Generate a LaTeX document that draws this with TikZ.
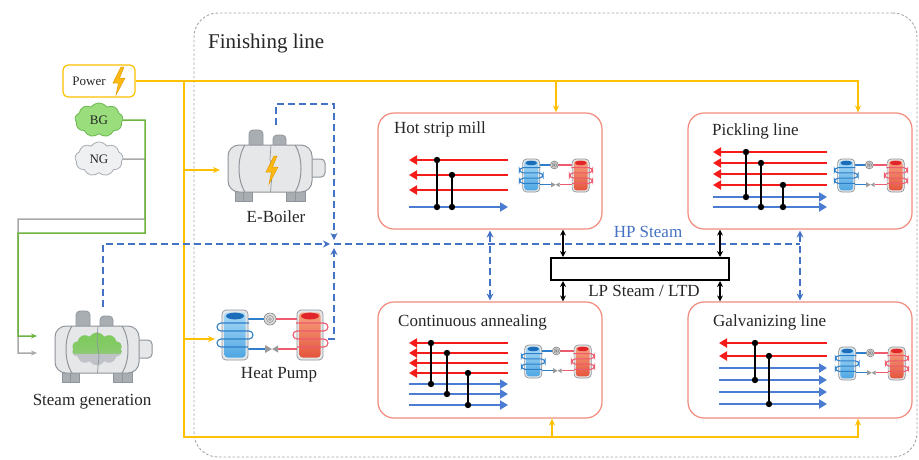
\documentclass[tikz,border=0pt]{standalone}
\usepackage{fontspec}
\setmainfont{Liberation Serif}
\usetikzlibrary{arrows.meta,shapes.symbols,calc}

\definecolor{pwr}{HTML}{FFC000}
\definecolor{hpb}{HTML}{4472C4}
\definecolor{grn}{HTML}{6DB33F}
\definecolor{gln}{HTML}{A9A9A9}
\definecolor{pbox}{HTML}{F28B7D}
\definecolor{hot}{HTML}{F41B1B}
\definecolor{cold}{HTML}{4A7DD2}
\definecolor{tline}{HTML}{8F959B}
\definecolor{tfill}{HTML}{E5E7E9}
\definecolor{tdark}{HTML}{A9AEB3}
\definecolor{txt}{HTML}{262626}
\definecolor{btop}{HTML}{A9DAF6}
\definecolor{bbot}{HTML}{4FA6E3}
\definecolor{bcap}{HTML}{1B6DBA}
\definecolor{bcoil}{HTML}{2E7FC9}
\definecolor{rtop}{HTML}{F6A17F}
\definecolor{rbot}{HTML}{E4553D}
\definecolor{rcap}{HTML}{E0262B}
\definecolor{rcoil}{HTML}{EE5A6E}
\definecolor{bgfill}{HTML}{9ADD7C}
\definecolor{bgedge}{HTML}{6CB850}
\definecolor{ngfill}{HTML}{EEF0F2}
\definecolor{ngedge}{HTML}{A8ADB2}
\definecolor{boltc}{HTML}{FDB913}
\definecolor{boltedge}{HTML}{E39A00}
\definecolor{sgreen}{HTML}{7CCB5A}
\definecolor{sgray}{HTML}{BFC3C7}

\tikzset{
  lbl/.style={font=\fontsize{17}{20}\selectfont, text=txt, inner sep=0pt},
  procbox/.style={draw=pbox, line width=1.2pt, rounded corners=16pt,
    minimum width=224pt, minimum height=116pt, fill=white, inner sep=0pt},
  pline/.style={draw=pwr, line width=2pt},
  parrow/.style={pline, -{Stealth[length=7pt,width=6pt]}},
  hpline/.style={draw=hpb, line width=2pt, dash pattern=on 7pt off 4pt},
  hparrow/.style={hpline, -{Stealth[length=7pt,width=7pt]}},
  hpboth/.style={hpline, {Stealth[length=7pt,width=7pt]}-{Stealth[length=7pt,width=7pt]}},
  lpboth/.style={draw=black, line width=1.6pt, {Stealth[length=6pt,width=6pt]}-{Stealth[length=6pt,width=6pt]}},
  hotarr/.style={draw=hot, line width=2.6pt, -{Triangle[length=8pt,width=9pt]}},
  coldarr/.style={draw=cold, line width=2.6pt, -{Triangle[length=8pt,width=9pt]}},
  hx/.style={draw=black, line width=2pt},
  gasline/.style={line width=1.5pt, -{Stealth[length=6pt,width=5pt]}},
  gascloud/.style={cloud, cloud puffs=9, cloud puff arc=110, aspect=1.5,
    minimum width=48pt, minimum height=34pt, inner sep=0pt, line width=0.8pt,
    font=\fontsize{13}{15}\selectfont, text=txt},
  steamcloud/.style={cloud, cloud puffs=10, cloud puff arc=120, aspect=1.55,
    minimum width=50pt, minimum height=33pt, inner sep=0pt},
  bolt/.pic={
    \draw[fill=boltc, draw=boltedge, line width=0.5pt]
      (2,-14) -- (-6,2) -- (-0.5,2) -- (-3,14) -- (6,-3) -- (0.5,-3) -- (5,-14) -- cycle;
  },
  boiler/.pic={
    % feet
    \draw[tline, fill=tdark, line width=0.8pt] (7,58) rectangle (24,72);
    \draw[tline, line width=0.6pt] (15.5,62) -- (15.5,72);
    \draw[tline, fill=tdark, line width=0.8pt] (58,58) rectangle (77,72);
    \draw[tline, line width=0.6pt] (67.5,62) -- (67.5,72);
    % domes
    \draw[tline, fill=tdark, line width=0.8pt, rounded corners=4pt] (21,1) -- (35,1) -- (35,20) -- (21,20) -- cycle;
    \draw[tline, fill=tdark, line width=0.8pt, rounded corners=4pt] (45,6) -- (58,6) -- (58,20) -- (45,20) -- cycle;
    % nozzle
    \draw[tline, fill=tfill, line width=1pt, rounded corners=4pt] (76,30) rectangle (97,48);
    % shell
    \draw[tline, fill=tfill, line width=1pt, rounded corners=11pt] (0,16) rectangle (84,63);
    \draw[tline, line width=1pt] (17,16) .. controls (9,28) and (9,51) .. (17,63);
    \draw[tline, line width=1pt] (67,16) .. controls (75,28) and (75,51) .. (67,63);
  },
  seam/.pic={
    \draw[tline, line width=0.7pt] (43,16) -- (42,30) -- (44,46) -- (42.5,63);
  },
  hpump/.pic={
    % refrigerant pipes
    \draw[bcoil, line width=1.3pt] (30,9) -- (46,9);
    \draw[rcoil, line width=1.3pt] (58,9) -- (79,9);
    \draw[rcoil, line width=1.3pt] (79,39) -- (60,39);
    \draw[bcoil, line width=1.3pt] (48,39) -- (30,39);
    % compressor
    \draw[gray, fill=gray!25, line width=0.6pt] (52,9) circle (6);
    \draw[gray, line width=0.5pt] (52,9) circle (3.5) (52,9) circle (1.4);
    % expansion valve
    \fill[gray!80] (47,35) -- (47,43) -- (54,39) -- cycle (60,35.5) -- (60,42.5) -- (54,39) -- cycle;
    % evaporator
    \draw[tline, fill=tfill, line width=0.7pt, rounded corners=4pt] (4,0) rectangle (30,50);
    \shade[top color=btop, bottom color=bbot, rounded corners=3pt] (6.5,2.5) rectangle (27.5,47.5);
    \fill[bcap] (17,6) ellipse (9 and 3.4);
    \draw[bcoil, line width=1.1pt, rounded corners=4pt]
      (31,13) -- (-1,13) -- (-1,21) -- (35,21) -- (35,29) -- (-1,29) -- (-1,37) -- (30,37);
    % condenser
    \draw[tline, fill=tfill, line width=0.7pt, rounded corners=4pt] (79,0) rectangle (105,50);
    \shade[top color=rtop, bottom color=rbot, rounded corners=3pt] (81.5,2.5) rectangle (102.5,47.5);
    \fill[rcap] (92,6) ellipse (9 and 3.4);
    \draw[rcoil, line width=1.1pt, rounded corners=4pt]
      (78,13) -- (110,13) -- (110,21) -- (75,21) -- (75,29) -- (110,29) -- (110,37) -- (79,37);
  },
}

\newcommand\exch[3]{%
  \draw[hx] (#1,#2) -- (#1,#3);
  \fill (#1,#2) circle (3.2pt);
  \fill (#1,#3) circle (3.2pt);}

\begin{document}
\begin{tikzpicture}[x=1pt,y=-1pt]
\useasboundingbox (0,0) rectangle (919,459);
\fill[white] (0,0) rectangle (919,459);

% finishing line area
\node[draw=gray!70, dash pattern=on 2.5pt off 2pt, line width=0.9pt, rounded corners=24pt,
      minimum width=723pt, minimum height=444pt, inner sep=0pt] (fl) at (555.5,235) {};
\node[lbl, font=\fontsize{21}{24}\selectfont, anchor=base west] (flt) at (208,48) {Finishing line};

% energy sources
\node[draw=pwr, line width=1.2pt, rounded corners=5pt, fill=white,
      minimum width=72pt, minimum height=32pt, inner sep=0pt] (pw) at (99,81) {};
\node[font=\fontsize{13}{15}\selectfont, text=txt, inner sep=0pt] (pwt) at (89,81) {Power};
\pic (pwb) at (119,81) {bolt};
\node[gascloud, draw=bgedge, fill=bgfill] (bg) at (99,120) {BG};
\node[gascloud, draw=ngedge, fill=ngfill] (ng) at (99,159) {NG};

% fuel supply to steam generation
\draw[gasline, gln] (ng.east) -- (145,159) -- (145,219) -- (18,219) -- (18,353) -- (37,353);
\draw[gasline, grn] (bg.east) -- (145,120) -- (145,233) -- (18,233) -- (18,336) -- (37,336);

% process boxes
\node[procbox] (hsm) at (490,171) {};
\node[procbox] (can) at (490,360) {};
\node[procbox] (pick) at (800,171) {};
\node[procbox] (galv) at (800,360) {};
\node[lbl, anchor=base west] (hsmt) at (394,133) {Hot strip mill};
\node[lbl, anchor=base west] (cant) at (398,326) {Continuous annealing};
\node[lbl, anchor=base west] (pickt) at (712,135) {Pickling line};
\node[lbl, anchor=base west] (galvt) at (713,326) {Galvanizing line};

% electricity grid
\coordinate (yA) at (556,81);
\coordinate (yB) at (858,81);
\coordinate (yV) at (184,81);
\coordinate (yE) at (184,170);
\coordinate (yH) at (184,339);
\coordinate (yBot) at (184,437);
\coordinate (yC) at (552,437);
\coordinate (yD) at (858,437);
\draw[parrow] (pw.east) -- (yB) -- (yB |- pick.north);
\draw[parrow] (yA) -- (yA |- hsm.north);
\draw[parrow] (yV) -- (yBot) -- (yD) -- (yD |- galv.south);
\draw[parrow] (yC) -- (yC |- can.south);
\draw[parrow] (yE) -- (220,170);
\draw[parrow] (yH) -- (215,339);

% units
\pic (sg) at (55,310) {boiler};
% steam cloud: grey lower half, green upper half with a soft transition
\node[steamcloud, fill=sgray] (sgc) at (97,349) {};
\begin{scope}
  \clip (60,300) rectangle (140,353);
  \node[steamcloud, top color=sgreen, bottom color=sgreen!30!sgray,
        middle color=sgreen!85!sgray] (sgcg) at (97,349) {};
\end{scope}
\pic (sgs) at (55,310) {seam};
\node[lbl] (sgt) at (92,402) {Steam generation};
\pic (eb) at (228,129) {boiler};
\pic (ebs) at (228,129) {seam};
\pic (ebb) at (272,170) {bolt};
\node[lbl] (ebt) at (276,217) {E-Boiler};
\pic (hp) at (218,310) {hpump};
\node[lbl] (hpt) at (279,375) {Heat Pump};

% steam headers
\coordinate (J) at (334,244);
\coordinate (hpR) at (800,244);
\draw[hparrow] (103,307) -- (103,244) -- ($(J)+(-4,0)$);
\draw[hparrow] (276,125) -- (276,104) -- (334,104) -- ($(J)+(0,-4)$);
\draw[hparrow] (328,339) -- (334,339) -- ($(J)+(0,4)$);
\draw[hpline] (J) -- (hpR);
\draw[hpboth, shorten <=1pt, shorten >=1pt] (hsm.south) -- (can.north);
\draw[hpboth, shorten <=1pt, shorten >=1pt] (pick.south) -- (galv.north);
\node[lbl, text=hpb] (hps) at (648,232) {HP Steam};

\node[draw=black, line width=2pt, fill=white, minimum width=178pt, minimum height=22pt,
      inner sep=0pt] (lp) at (640,269) {};
\node[lbl] (lpt) at (644,291) {LP Steam / LTD};
\coordinate (la) at ($(lp.north west)+(13,0)$);
\coordinate (lb) at ($(lp.north east)+(-10,0)$);
\draw[lpboth] (la |- hsm.south) -- (la |- lp.north);
\draw[lpboth] (lb |- pick.south) -- (lb |- lp.north);
\draw[lpboth] (la |- lp.south) -- (la |- can.north);
\draw[lpboth] (lb |- lp.south) -- (lb |- galv.north);

% hot strip mill streams
\foreach \y in {160,175,190} \draw[hotarr] (508,\y) -- (409,\y);
\draw[coldarr] (409,207) -- (508,207);
\exch{437}{160}{207}
\exch{452}{175}{207}
\pic[scale=0.66] (hp1) at (520,159) {hpump};

% continuous annealing streams
\foreach \y in {343,353,363,373} \draw[hotarr] (508,\y) -- (409,\y);
\foreach \y in {384,394,405} \draw[coldarr] (409,\y) -- (508,\y);
\exch{431}{343}{384}
\exch{447}{353}{394}
\exch{468}{373}{405}
\pic[scale=0.66] (hp2) at (522,345) {hpump};

% pickling line streams
\foreach \y in {152,163,174,185} \draw[hotarr] (827,\y) -- (713,\y);
\foreach \y in {197,207} \draw[coldarr] (713,\y) -- (827,\y);
\exch{746}{152}{197}
\exch{761}{163}{207}
\exch{783}{185}{207}
\pic[scale=0.66] (hp3) at (835,159) {hpump};

% galvanizing line streams
\foreach \y in {343,356} \draw[hotarr] (827,\y) -- (719,\y);
\foreach \y in {368,380,392,404} \draw[coldarr] (719,\y) -- (827,\y);
\exch{755}{343}{380}
\exch{769}{356}{404}
\pic[scale=0.66] (hp4) at (836,347) {hpump};
\end{tikzpicture}
\end{document}
